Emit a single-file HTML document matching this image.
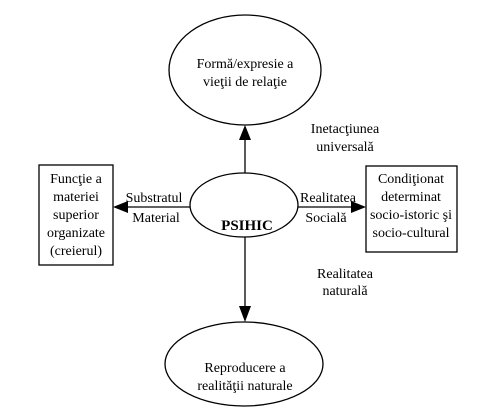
<!DOCTYPE html>
<html><head><meta charset="utf-8"><style>
html,body{margin:0;padding:0;background:#fff;font-family:"Liberation Serif","DejaVu Serif",serif;}
svg{display:block;}
svg text{font-family:"Liberation Serif","DejaVu Serif",serif !important;font-size:14px;fill:#000;}
</style></head><body>
<svg width="495" height="413" viewBox="0 0 495 413" xmlns="http://www.w3.org/2000/svg">
<g fill="none" stroke="#000" stroke-width="1.3">
<ellipse cx="245" cy="70" rx="76" ry="55"/>
<ellipse cx="244" cy="205" rx="54" ry="32"/>
<ellipse cx="244" cy="364" rx="79" ry="42"/>
<rect x="39" y="165" width="74" height="100"/>
<rect x="366" y="166" width="91" height="86"/>
<line x1="245" y1="173" x2="245" y2="138"/>
<line x1="245" y1="237" x2="245" y2="308"/>
<line x1="190" y1="207" x2="128" y2="207"/>
<line x1="298" y1="207" x2="352" y2="207"/>
</g>
<g fill="#000">
<polygon points="245,125 239,140 251,140"/>
<polygon points="245,322 239,306 251,306"/>
<polygon points="113,207 128,201 128,213"/>
<polygon points="366,207 351,201 351,213"/>
</g>
<g text-anchor="middle" font-family="Liberation Serif, serif" font-size="14">
<text x="245" y="68">Formă/expresie a</text>
<text x="245" y="86">vieţii de relaţie</text>
<text x="345" y="133">Inetacţiunea</text>
<text x="345" y="151">universală</text>
<text x="76" y="183">Funcţie a</text>
<text x="76" y="201">materiei</text>
<text x="76" y="219">superior</text>
<text x="76" y="237">organizate</text>
<text x="76" y="255">(creierul)</text>
<text x="154" y="202">Substratul</text>
<text x="156" y="222">Material</text>
<text x="247" y="230" font-weight="bold" style="font-weight:bold;font-size:15px">PSIHIC</text>
<text x="328" y="202">Realitatea</text>
<text x="326" y="222">Socială</text>
<text x="411" y="183">Condiţionat</text>
<text x="411" y="201">determinat</text>
<text x="411" y="219">socio-istoric şi</text>
<text x="411" y="237">socio-cultural</text>
<text x="345" y="278">Realitatea</text>
<text x="345" y="295">naturală</text>
<text x="245" y="372">Reproducere a</text>
<text x="245" y="390">realităţii naturale</text>
</g>
</svg>
</body></html>
